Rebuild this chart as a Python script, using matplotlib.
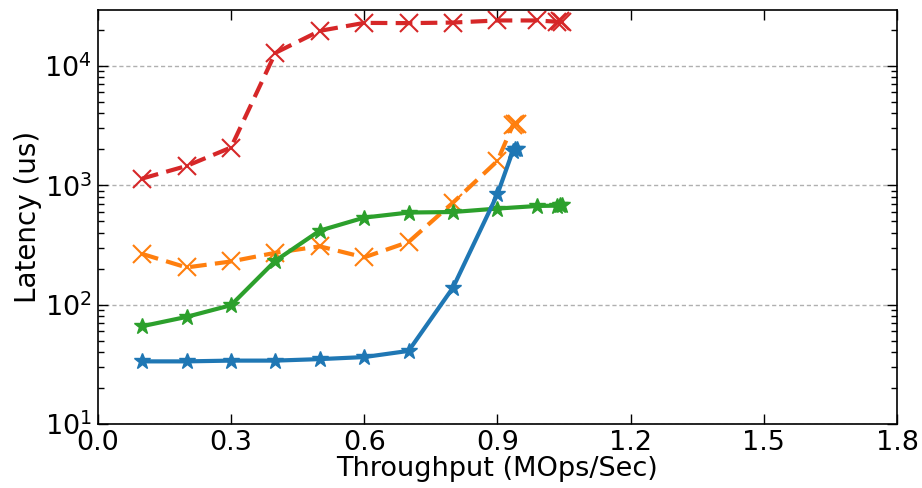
import numpy as np
import matplotlib
matplotlib.use("Agg")
import matplotlib.pyplot as plt

# throughput (MOps/Sec) and latency (us) per series
blue_x = [0.1, 0.2, 0.3, 0.4, 0.5, 0.6, 0.7, 0.8, 0.9, 0.935, 0.94, 0.945]
blue_y = [33.5, 33.5, 34, 34, 35, 36.4, 41, 139, 840, 1950, 2000, 2020]

green_x = [0.1, 0.2, 0.3, 0.4, 0.5, 0.6, 0.7, 0.8, 0.9, 0.99, 1.035, 1.04, 1.045]
green_y = [66, 79, 99, 233, 417, 536, 591, 597, 638, 671, 675, 680, 685]

orange_x = [0.1, 0.2, 0.3, 0.4, 0.5, 0.6, 0.7, 0.8, 0.9, 0.935, 0.94, 0.945]
orange_y = [266, 205, 230, 272, 308, 249, 335, 716, 1600, 3200, 3260, 3240]

red_x = [0.1, 0.2, 0.3, 0.4, 0.5, 0.6, 0.7, 0.8, 0.9, 0.99, 1.035, 1.04, 1.045]
red_y = [1138, 1451, 2070, 12850, 19640, 22900, 22800, 23050, 24000, 24000, 23400, 23600, 23500]

x_ticks = [0.0, 0.3, 0.6, 0.9, 1.2, 1.5, 1.8]

fig = plt.figure(figsize=(9.22, 4.88), dpi=100)
ax = fig.add_axes([0.106, 0.131, 0.867, 0.849])

ax.plot(red_x, red_y, color="#d62728", linestyle="--", linewidth=3, marker="x",
        markersize=13, markeredgewidth=1.5, dashes=(4, 2))
ax.plot(orange_x, orange_y, color="#ff7f0e", linestyle="--", linewidth=3, marker="x",
        markersize=13, markeredgewidth=1.5, dashes=(4, 2))
ax.plot(green_x, green_y, color="#2ca02c", linestyle="-", linewidth=3, marker="*",
        markersize=12)
ax.plot(blue_x, blue_y, color="#1f77b4", linestyle="-", linewidth=3, marker="*",
        markersize=12)

ax.set_yscale("log")
ax.set_xlim(0, 1.8)
ax.set_ylim(10, 29500)
ax.set_xticks(x_ticks)
ax.set_xticklabels([f"{t:.1f}" for t in x_ticks])

ax.yaxis.grid(True, which="major", color="#b0b0b0", linestyle="--", dashes=(3, 2), linewidth=1)
ax.set_axisbelow(True)

ax.tick_params(which="both", direction="in", top=True, right=True, labelsize=19.5)
ax.tick_params(which="major", length=7, width=1, pad=4)
ax.tick_params(which="minor", length=4, width=1)
for s in ax.spines.values():
    s.set_linewidth(1.2)

ax.set_xlabel("Throughput (MOps/Sec)", fontsize=19.5, labelpad=0)
ax.set_ylabel("Latency (us)", fontsize=20, labelpad=2)

fig.savefig("out.png", dpi=100)
